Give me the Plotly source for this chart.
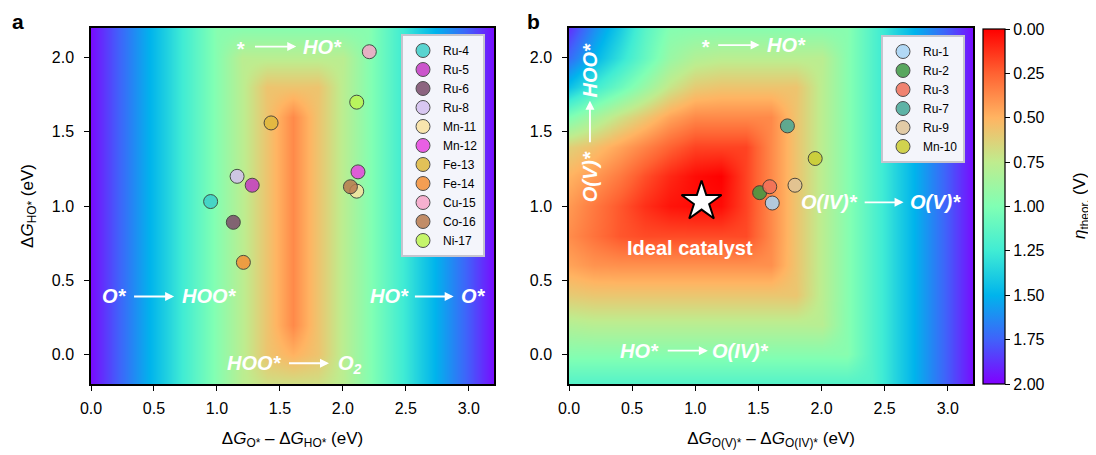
import numpy as np
import plotly.graph_objects as go

# ---------------- data ----------------
# panel a: overpotential profiles read from the map (eta in V)
grid_x = [0.0, 0.2, 0.4, 0.6, 0.8, 1.0, 1.2, 1.4, 1.6, 1.8, 2.0, 2.2, 2.4, 2.6, 2.8, 3.0, 3.2]
grid_y = [-0.2, 0.0, 0.2, 0.4, 0.6, 0.8, 1.0, 1.2, 1.4, 1.6, 1.8, 2.0, 2.2]
eta_a_x = [1.97, 1.77, 1.57, 1.37, 1.17, 0.97, 0.77, 0.57, 0.37, 0.57, 0.77, 0.97, 1.17, 1.37, 1.57, 1.77, 1.97]
eta_a_y = [0.69, 0.49, 0.29, 0.09, 0.00, 0.00, 0.00, 0.00, 0.17, 0.37, 0.57, 0.77, 0.97]

# panel b: overpotential grid (rows = grid_y, cols = grid_x)
eta_b = [
    [1.17, 1.17, 1.17, 1.17, 1.17, 1.17, 1.17, 1.17, 1.17, 1.17, 1.17, 1.17, 1.17, 1.37, 1.57, 1.77, 1.97],
    [0.97, 0.97, 0.97, 0.97, 0.97, 0.97, 0.97, 0.97, 0.97, 0.97, 0.97, 0.97, 1.17, 1.37, 1.57, 1.77, 1.97],
    [0.80, 0.78, 0.78, 0.78, 0.78, 0.78, 0.78, 0.78, 0.78, 0.78, 0.78, 0.97, 1.17, 1.37, 1.57, 1.77, 1.97],
    [0.60, 0.58, 0.58, 0.58, 0.58, 0.58, 0.58, 0.58, 0.58, 0.58, 0.77, 0.97, 1.17, 1.37, 1.57, 1.77, 1.97],
    [0.45, 0.40, 0.39, 0.39, 0.39, 0.39, 0.39, 0.39, 0.39, 0.57, 0.77, 0.97, 1.17, 1.37, 1.57, 1.77, 1.97],
    [0.38, 0.30, 0.22, 0.19, 0.19, 0.19, 0.19, 0.19, 0.37, 0.57, 0.77, 0.97, 1.17, 1.37, 1.57, 1.77, 1.97],
    [0.42, 0.32, 0.22, 0.12, 0.05, 0.03, 0.03, 0.17, 0.37, 0.57, 0.77, 0.97, 1.17, 1.37, 1.57, 1.77, 1.97],
    [0.50, 0.42, 0.32, 0.20, 0.10, 0.03, 0.00, 0.17, 0.37, 0.57, 0.77, 0.97, 1.17, 1.37, 1.57, 1.77, 1.97],
    [0.62, 0.55, 0.45, 0.35, 0.25, 0.17, 0.17, 0.17, 0.37, 0.57, 0.77, 0.97, 1.17, 1.37, 1.57, 1.77, 1.97],
    [1.00, 0.85, 0.70, 0.58, 0.45, 0.37, 0.37, 0.37, 0.37, 0.57, 0.77, 0.97, 1.17, 1.37, 1.57, 1.77, 1.97],
    [1.45, 1.25, 1.08, 0.90, 0.72, 0.60, 0.57, 0.57, 0.57, 0.57, 0.77, 0.97, 1.17, 1.37, 1.57, 1.77, 1.97],
    [1.72, 1.50, 1.30, 1.10, 0.90, 0.80, 0.77, 0.77, 0.77, 0.77, 0.77, 0.97, 1.17, 1.37, 1.57, 1.77, 1.97],
    [1.88, 1.62, 1.40, 1.15, 0.98, 0.97, 0.97, 0.97, 0.97, 0.97, 0.97, 0.97, 1.17, 1.37, 1.57, 1.77, 1.97],
]

# catalysts, panel a
a_names = ["Ru-4", "Ru-5", "Ru-6", "Ru-8", "Mn-11", "Mn-12", "Fe-13", "Fe-14", "Cu-15", "Co-16", "Ni-17"]
a_x = [0.95, 1.28, 1.13, 1.16, 2.11, 2.12, 1.43, 1.21, 2.21, 2.06, 2.11]
a_y = [1.03, 1.14, 0.89, 1.20, 1.10, 1.23, 1.56, 0.62, 2.04, 1.13, 1.70]
a_colors = ["#3dcfc9", "#c43ac4", "#7b4b6b", "#d4bff0", "#f9e2a0", "#e845e0",
            "#e0b83c", "#f59036", "#f7a5c8", "#b97a4e", "#bdf552"]

# catalysts, panel b
b_names = ["Ru-1", "Ru-2", "Ru-3", "Ru-7", "Ru-9", "Mn-10"]
b_x = [1.61, 1.51, 1.59, 1.73, 1.79, 1.95]
b_y = [1.02, 1.09, 1.13, 1.54, 1.14, 1.32]
b_colors = ["#a6d4f5", "#3e9a44", "#f0705a", "#45a898", "#e0c498", "#cccc30"]

ideal_x = [1.05]
ideal_y = [1.03]

axis_ticks = [0.0, 0.5, 1.0, 1.5, 2.0, 2.5, 3.0]
axis_ticks_y = [0.0, 0.5, 1.0, 1.5, 2.0]
cb_vals = [0.0, 0.25, 0.5, 0.75, 1.0, 1.25, 1.5, 1.75, 2.0]
cb_labels = ["0.00", "0.25", "0.50", "0.75", "1.00", "1.25", "1.50", "1.75", "2.00"]

# ---------------- figure ----------------
W, H = 1096, 455
OFF = 8  # page body margin
FONT = "Liberation Sans, Arial, Helvetica, sans-serif"

def px_x(p):
    return (p - OFF) / W

def px_y(p):
    return 1 - (p - OFF) / H

rainbow = [
    [0.0, "rgb(128,0,255)"], [0.125, "rgb(64,98,250)"], [0.25, "rgb(0,180,236)"],
    [0.375, "rgb(64,236,212)"], [0.5, "rgb(128,255,180)"], [0.625, "rgb(191,236,142)"],
    [0.75, "rgb(255,180,98)"], [0.875, "rgb(255,98,50)"], [1.0, "rgb(255,0,0)"],
]

fig = go.Figure()

za = np.maximum.outer(np.array(eta_a_y), np.array(eta_a_x))
fig.add_trace(go.Heatmap(x=grid_x, y=grid_y, z=-za, coloraxis="coloraxis",
                         zsmooth="best", xaxis="x", yaxis="y", hoverinfo="skip"))
fig.add_trace(go.Heatmap(x=grid_x, y=grid_y, z=-np.array(eta_b), coloraxis="coloraxis",
                         zsmooth="best", xaxis="x2", yaxis="y2", hoverinfo="skip"))

for n, x, y, c in zip(a_names, a_x, a_y, a_colors):
    fig.add_trace(go.Scatter(x=[x], y=[y], name=n, mode="markers", xaxis="x", yaxis="y",
                             legend="legend",
                             marker=dict(size=14, color=c, opacity=0.85,
                                         line=dict(color="#333333", width=1))))
for n, x, y, c in zip(b_names, b_x, b_y, b_colors):
    fig.add_trace(go.Scatter(x=[x], y=[y], name=n, mode="markers", xaxis="x2", yaxis="y2",
                             legend="legend2",
                             marker=dict(size=14, color=c, opacity=0.85,
                                         line=dict(color="#333333", width=1))))
fig.add_trace(go.Scatter(x=ideal_x, y=ideal_y, mode="markers", xaxis="x2", yaxis="y2",
                         showlegend=False,
                         marker=dict(symbol="star", size=30, color="white",
                                     line=dict(color="black", width=2))))

ax_common = dict(showline=True, linecolor="black", linewidth=1.5, mirror=True,
                 ticks="outside", ticklen=5, tickwidth=1.2, tickcolor="black",
                 showgrid=False, zeroline=False, automargin=False,
                 tickfont=dict(size=16, color="black", family=FONT))
yd = [px_y(384), px_y(28)]
title_font = dict(size=17, family=FONT, color="black")
fig.update_layout(
    xaxis=dict(domain=[px_x(91), px_x(494)], range=[0, 3.2], tickvals=axis_ticks,
               ticktext=[f"{v:.1f}" for v in axis_ticks], anchor="y", ticklabelstandoff=4,
               title=dict(text="Δ<i>G</i><sub>O*</sub> – Δ<i>G</i><sub>HO*</sub> (eV)",
                          font=title_font, standoff=16),
               **ax_common),
    yaxis=dict(domain=yd, range=[-0.2, 2.2], tickvals=axis_ticks_y,
               ticktext=[f"{v:.1f}" for v in axis_ticks_y], anchor="x", ticklabelstandoff=7,
               title=dict(text="Δ<i>G</i><sub>HO*</sub> (eV)", font=title_font, standoff=14),
               **ax_common),
    xaxis2=dict(domain=[px_x(569), px_x(973)], range=[0, 3.2], tickvals=axis_ticks,
                ticktext=[f"{v:.1f}" for v in axis_ticks], anchor="y2", ticklabelstandoff=4,
                title=dict(text="Δ<i>G</i><sub>O(V)*</sub> – Δ<i>G</i><sub>O(IV)*</sub> (eV)",
                           font=title_font, standoff=16),
                **ax_common),
    yaxis2=dict(domain=yd, range=[-0.2, 2.2], tickvals=axis_ticks_y,
                ticktext=[f"{v:.1f}" for v in axis_ticks_y], anchor="x2", ticklabelstandoff=7,
                **ax_common),
    coloraxis=dict(
        colorscale=rainbow, cmin=-2, cmax=0,
        colorbar=dict(
            x=px_x(983), xanchor="left", xref="paper", xpad=0,
            y=px_y(384), yanchor="bottom", yref="paper", ypad=0,
            len=(384 - 29) / H, lenmode="fraction",
            thickness=22, thicknessmode="pixels",
            outlinewidth=1.2, outlinecolor="black",
            ticks="outside", ticklen=5, tickcolor="black",
            tickvals=[-v for v in cb_vals], ticktext=cb_labels,
            tickfont=dict(size=16, family=FONT, color="black"),
            title=dict(text=""),
        ),
    ),
    legend=dict(x=px_x(485), xanchor="right", y=px_y(34), yanchor="top",
                bgcolor="#f4f5fb", bordercolor="#c5c5cf", borderwidth=2,
                font=dict(size=12, family=FONT, color="black"), tracegroupgap=0,
                itemwidth=30),
    legend2=dict(x=px_x(965), xanchor="right", y=px_y(35), yanchor="top",
                 bgcolor="#f4f5fb", bordercolor="#c5c5cf", borderwidth=2,
                 font=dict(size=12, family=FONT, color="black"), tracegroupgap=0,
                 itemwidth=30),
    width=W, height=H, margin=dict(l=0, r=0, t=0, b=0),
    paper_bgcolor="white", plot_bgcolor="white", template="none",
    font=dict(family=FONT, color="black"),
)

ann = []
lab_font = dict(size=20, color="white", family=FONT, weight="bold", style="italic")

def txt(x, y, t, xr="x", yr="y", angle=0, font=lab_font):
    ann.append(dict(x=x, y=y, xref=xr, yref=yr, text=t, showarrow=False,
                    font=font, textangle=angle, xanchor="center", yanchor="middle"))

def arrow(x0, y0, x1, y1, xr="x", yr="y"):
    ann.append(dict(x=x1, y=y1, ax=x0, ay=y0, xref=xr, yref=yr, axref=xr, ayref=yr,
                    text="", showarrow=True, arrowhead=2, arrowsize=1, arrowwidth=1.8,
                    arrowcolor="white", standoff=0, startstandoff=0))

# panel a labels
txt(1.19, 2.06, "*")
arrow(1.29, 2.075, 1.63, 2.075)
txt(1.84, 2.07, "HO*")
txt(0.19, 0.39, "O*")
arrow(0.33, 0.39, 0.66, 0.39)
txt(0.94, 0.39, "HOO*")
txt(2.37, 0.39, "HO*")
arrow(2.56, 0.39, 2.88, 0.39)
txt(3.04, 0.39, "O*")
txt(1.30, -0.06, "HOO*")
arrow(1.56, -0.06, 1.89, -0.06)
txt(2.06, -0.07, "O<sub>2</sub>")

# panel b labels
txt(1.08, 2.07, "*", "x2", "y2")
arrow(1.17, 2.085, 1.51, 2.085, "x2", "y2")
txt(1.72, 2.085, "HO*", "x2", "y2")
txt(0.166, 1.20, "O(V)*", "x2", "y2", angle=-90)
arrow(0.166, 1.42, 0.166, 1.71, "x2", "y2")
txt(0.166, 1.92, "HOO*", "x2", "y2", angle=-90)
txt(0.96, 0.72, "Ideal catalyst", "x2", "y2",
    font=dict(size=20, color="white", family=FONT, weight="bold"))
txt(2.06, 1.025, "O(IV)*", "x2", "y2")
arrow(2.33, 1.025, 2.65, 1.025, "x2", "y2")
txt(2.90, 1.025, "O(V)*", "x2", "y2")
txt(0.56, 0.025, "HO*", "x2", "y2")
arrow(0.77, 0.025, 1.10, 0.025, "x2", "y2")
txt(1.36, 0.025, "O(IV)*", "x2", "y2")

# colorbar title
ann.append(dict(x=px_x(1081), y=px_y(206), xref="paper", yref="paper",
                text="<i>η</i><sub>theor.</sub> (V)", showarrow=False, textangle=-90,
                xanchor="center", yanchor="middle", font=title_font))

# panel letters
for lx, lt in [(18, "a"), (533, "b")]:
    ann.append(dict(x=px_x(lx), y=px_y(21), xref="paper", yref="paper", text=lt,
                    showarrow=False, xanchor="center", yanchor="middle",
                    font=dict(size=21, color="black", family=FONT, weight="bold")))

fig.update_layout(annotations=ann)
fig.write_html("out.html")
